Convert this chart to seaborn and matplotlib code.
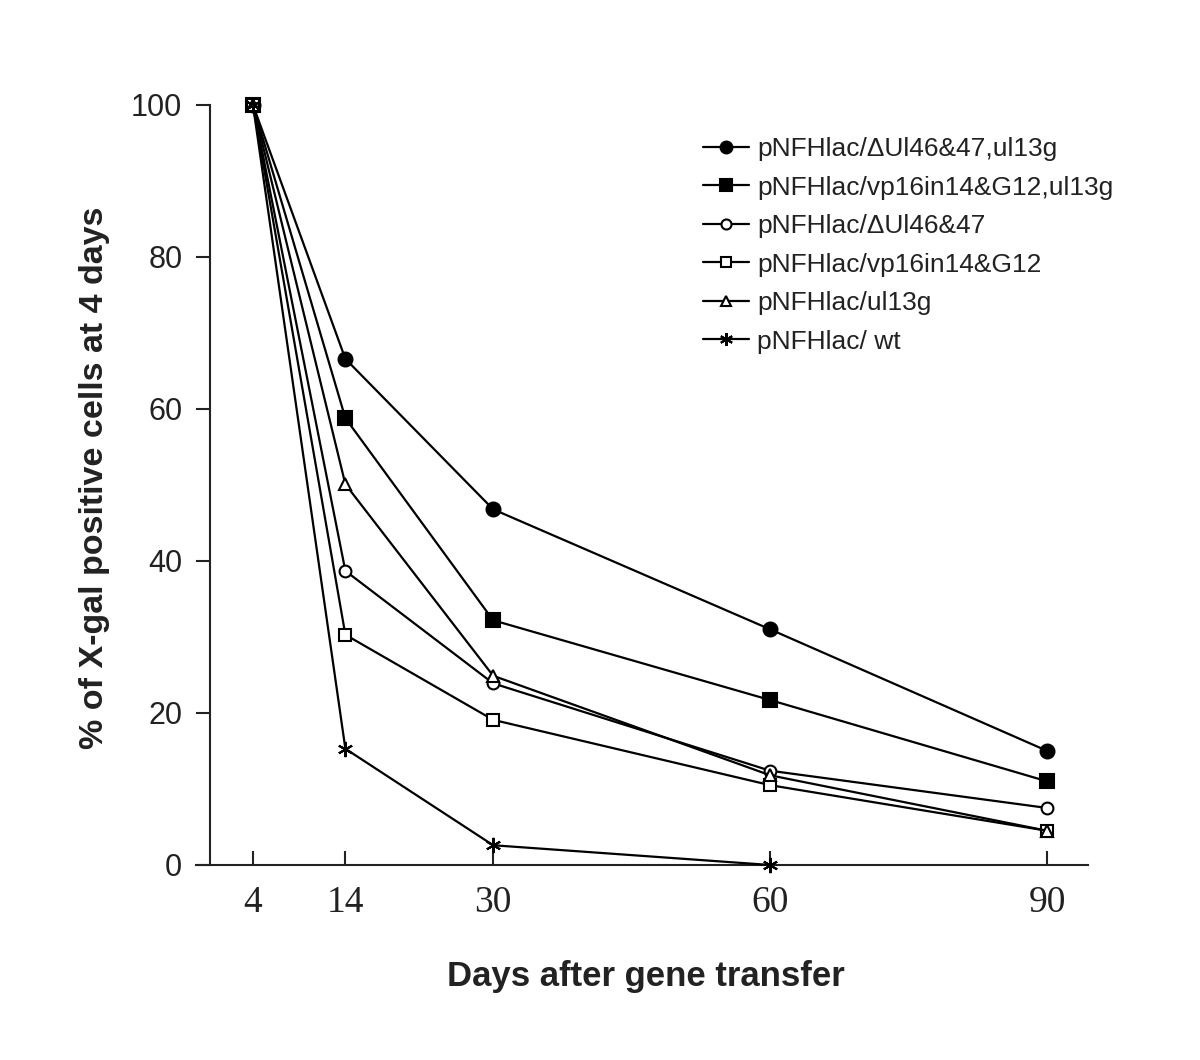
import matplotlib
matplotlib.use("Agg")
import matplotlib.pyplot as plt
import seaborn as sns
import pandas as pd

days = [4, 14, 30, 60, 90]
days_wt = [4, 14, 30, 60]

labels = [
    "pNFHlac/\u0394Ul46&47,ul13g",
    "pNFHlac/vp16in14&G12,ul13g",
    "pNFHlac/\u0394Ul46&47",
    "pNFHlac/vp16in14&G12",
    "pNFHlac/ul13g",
    "pNFHlac/ wt",
]
dul_ul13g = [100, 66.6, 46.8, 31.0, 15.0]
vp16_ul13g = [100, 58.8, 32.2, 21.7, 11.0]
dul = [100, 38.7, 23.9, 12.4, 7.5]
vp16 = [100, 30.3, 19.1, 10.5, 4.5]
ul13g = [100, 50.1, 24.9, 11.8, 4.5]
wt = [100, 15.3, 2.6, 0.0]

series = [
    (labels[0], days, dul_ul13g, dict(marker="o", ms=10, mfc="black")),
    (labels[1], days, vp16_ul13g, dict(marker="s", ms=10, mfc="black")),
    (labels[2], days, dul, dict(marker="o", ms=8.5, mfc="white")),
    (labels[3], days, vp16, dict(marker="s", ms=8.5, mfc="white")),
    (labels[4], days, ul13g, dict(marker="^", ms=9, mfc="white")),
    (labels[5], days_wt, wt, dict(marker=(6, 2, 0), ms=11)),
]

sns.set_style("ticks")
plt.rcParams["font.family"] = ["Liberation Sans", "DejaVu Sans"]

fig = plt.figure(figsize=(12, 10.6), dpi=100)
ax = fig.add_axes([196 / 1200, 1 - 865 / 1060, (1088 - 196) / 1200, (865 - 105) / 1060])

for lab, x, y, st in series:
    df = pd.DataFrame({"day": x, "val": y})
    sns.lineplot(data=df, x="day", y="val", ax=ax, color="black", lw=1.6,
                 marker=st["marker"], markersize=st["ms"],
                 markerfacecolor=st.get("mfc", "black"),
                 markeredgecolor="black", markeredgewidth=1.5,
                 label=lab, clip_on=False, zorder=3)

ax.set_xlim(-2.17, 94.4)
ax.set_ylim(0, 100)
ax.spines["top"].set_visible(False)
ax.spines["right"].set_visible(False)
ax.spines["left"].set_position(("data", -0.65))
for s in ["left", "bottom"]:
    ax.spines[s].set_linewidth(1.5)
    ax.spines[s].set_color("#222222")

ax.set_xticks(days)
ax.set_xticklabels([str(d) for d in days], family=["Liberation Serif"], fontsize=27)
ax.set_yticks([0, 20, 40, 60, 80, 100])
ax.set_yticklabels(["0", "20", "40", "60", "80", "100"], fontsize=22, color="#222222")
ax.tick_params(axis="x", direction="in", length=10, width=1.5, pad=15, colors="#222222")
ax.tick_params(axis="y", direction="out", length=10, width=1.5, pad=10, colors="#222222")

ax.set_xlabel("Days after gene transfer", fontsize=25, fontweight="bold", color="#222222")
ax.xaxis.set_label_coords((646 - 196) / 892, (865 - 960) / 760)
ax.set_ylabel("% of X-gal positive cells at 4 days", fontsize=24.5, fontweight="bold", color="#222222")
ax.yaxis.set_label_coords((110 - 196) / 892, (865 - 478) / 760)

leg = ax.legend(loc="upper left", bbox_to_anchor=(703 / 1200, 1 - 137 / 1060),
                bbox_transform=fig.transFigure, frameon=False, fontsize=19,
                handlelength=1.75, handletextpad=0.3, labelspacing=0.55,
                borderpad=0, borderaxespad=0, markerscale=0.85)
for t in leg.get_texts():
    t.set_color("#222222")

fig.savefig("out.png", dpi=100, facecolor="white")
